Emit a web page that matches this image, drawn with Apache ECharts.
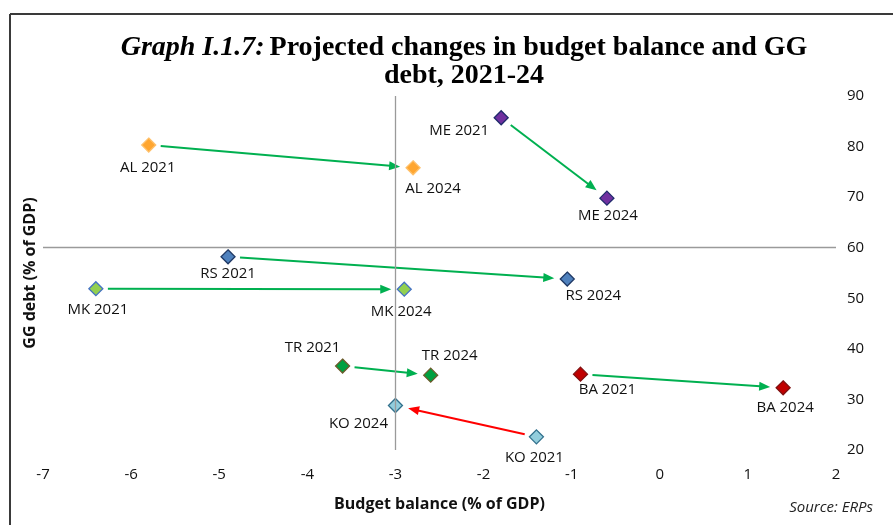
<!DOCTYPE html>
<html>
<head>
<meta charset="utf-8">
<script src="https://cdn.jsdelivr.net/npm/echarts@6/dist/echarts.min.js"></script>
<style>html,body{margin:0;padding:0;background:#fff}#c{width:893px;height:525px}</style>
</head>
<body>
<div id="c"></div>
<script>
// ---- data ----
const countries   = ['AL', 'ME', 'RS', 'MK', 'TR', 'KO', 'BA'];
const balance2021 = [-5.8, -1.8, -4.9, -6.4, -3.6, -1.4, -0.9];
const debt2021    = [80.3, 85.7, 58.2, 51.9, 36.6, 22.6, 35.0];
const balance2024 = [-2.8, -0.6, -1.05, -2.9, -2.6, -3.0, 1.4];
const debt2024    = [75.8, 69.8, 53.8, 51.8, 34.8, 28.8, 32.3];
const years       = ['2021', '2024'];
const xTicks      = [-7, -6, -5, -4, -3, -2, -1, 0, 1, 2];
const yTicks      = [20, 30, 40, 50, 60, 70, 80, 90];
const refBalance  = -3;
const refDebt     = 60;

// ---- styles (not data) ----
const markerStyle = {
  AL: { fill: '#FFA630', border: '#FFC06A' },
  ME: { fill: '#7030A0', border: '#1F2A6B' },
  RS: { fill: '#4F81BD', border: '#1F3864' },
  MK: { fill: '#92D050', border: '#4472C4' },
  TR: { fill: '#00A040', border: '#6B5B2B' },
  KO: { fill: '#92CDDC', border: '#31708C' },
  BA: { fill: '#C00000', border: '#7F1010' }
};
const arrowColor = { AL: '#00B050', ME: '#00B050', RS: '#00B050', MK: '#00B050', TR: '#00B050', KO: '#FF0000', BA: '#00B050' };
const labelOffset = {
  'AL 2021': [-1, 23], 'AL 2024': [20, 21],
  'ME 2021': [-42, 13], 'ME 2024': [1, 18],
  'RS 2021': [0, 17], 'RS 2024': [26, 17],
  'MK 2021': [2, 21], 'MK 2024': [-3, 23],
  'TR 2021': [-30, -18], 'TR 2024': [19, -19],
  'KO 2021': [-2, 21], 'KO 2024': [-37, 18],
  'BA 2021': [27, 16], 'BA 2024': [2, 20]
};

const FONT = 'Open Sans';

// build point list
const points = [];
countries.forEach((c, i) => {
  [[balance2021[i], debt2021[i], years[0]], [balance2024[i], debt2024[i], years[1]]].forEach(([x, y, yr]) => {
    const name = c + ' ' + yr;
    points.push({
      value: [x, y], name: name,
      itemStyle: { color: markerStyle[c].fill, borderColor: markerStyle[c].border, borderWidth: 1.3, opacity: 1 },
      label: { show: true, formatter: name, position: 'inside', offset: labelOffset[name],
               align: 'center', verticalAlign: 'middle', color: '#111', fontFamily: FONT, fontSize: 15 }
    });
  });
});
const arrows = countries.map((c, i) => ({ value: [balance2021[i], debt2021[i], balance2024[i], debt2024[i]], c: c }));

const chart = echarts.init(document.getElementById('c'), null, { renderer: 'canvas' });
chart.setOption({
  animation: false,
  backgroundColor: '#fff',
  title: {
    text: '{i|Graph I.1.7:} {b|Projected changes in budget balance and GG}\n{b|debt, 2021-24}',
    left: 459, top: 29, textAlign: 'center',
    textStyle: {
      lineHeight: 28,
      rich: {
        i: { fontFamily: 'Liberation Serif', fontStyle: 'italic', fontSize: 28, color: '#000', lineHeight: 28 },
        b: { fontFamily: 'Liberation Serif', fontWeight: 'bold', fontSize: 28, color: '#000', lineHeight: 28 }
      }
    }
  },
  graphic: [
    { type: 'line', shape: { x1: 10, y1: 14, x2: 893, y2: 14 }, style: { stroke: '#3a3a3a', lineWidth: 2 } },
    { type: 'line', shape: { x1: 10, y1: 14, x2: 10, y2: 525 }, style: { stroke: '#3a3a3a', lineWidth: 2 } },
    { type: 'text', right: 20, top: 500, style: { text: 'Source: ERPs', font: 'italic 15px "Open Sans"', fill: '#222' } },
    { type: 'text', x: 30, y: 273, rotation: Math.PI / 2,
      style: { text: 'GG debt (% of GDP)', font: 'bold 16px "Open Sans"', fill: '#111', align: 'center', verticalAlign: 'middle' } }
  ],
  grid: { left: 43, right: 57, top: 96, bottom: 75 },
  xAxis: {
    type: 'value', min: xTicks[0], max: xTicks[xTicks.length - 1], interval: 1,
    name: 'Budget balance (% of GDP)', nameLocation: 'middle', nameGap: 46,
    nameTextStyle: { fontFamily: FONT, fontWeight: 'bold', fontSize: 16, color: '#111' },
    axisLine: { show: false }, axisTick: { show: false }, splitLine: { show: false },
    axisLabel: { fontFamily: FONT, fontSize: 15, color: '#111', margin: 17 }
  },
  yAxis: {
    type: 'value', position: 'right', min: yTicks[0], max: yTicks[yTicks.length - 1], interval: 10,
    axisLine: { show: false }, axisTick: { show: false }, splitLine: { show: false },
    axisLabel: { fontFamily: FONT, fontSize: 15, color: '#111', margin: 11 }
  },
  series: [
    {
      type: 'custom',
      data: arrows,
      z: 3,
      renderItem: function (params, api) {
        const d = arrows[params.dataIndex];
        const p0 = api.coord([d.value[0], d.value[1]]);
        const p1 = api.coord([d.value[2], d.value[3]]);
        const dx = p1[0] - p0[0], dy = p1[1] - p0[1];
        const L = Math.sqrt(dx * dx + dy * dy);
        const ux = dx / L, uy = dy / L;
        const s = [p0[0] + ux * 12, p0[1] + uy * 12];
        const e = [p1[0] - ux * 13, p1[1] - uy * 13];
        const hl = 11, hw = 4.5;
        const b = [e[0] - ux * hl, e[1] - uy * hl];
        const col = arrowColor[d.c];
        return {
          type: 'group',
          children: [
            { type: 'line', shape: { x1: s[0], y1: s[1], x2: b[0] + ux * 1, y2: b[1] + uy * 1 }, style: { stroke: col, lineWidth: 2 } },
            { type: 'polygon', shape: { points: [e, [b[0] - uy * hw, b[1] + ux * hw], [b[0] + uy * hw, b[1] - ux * hw]] }, style: { fill: col } }
          ]
        };
      }
    },
    {
      type: 'scatter',
      symbol: 'diamond',
      symbolSize: 14,
      z: 4,
      itemStyle: { opacity: 1 },
      data: points,
      markLine: {
        silent: true, symbol: 'none', label: { show: false },
        lineStyle: { color: '#9a9a9a', width: 1.3, type: 'solid' },
        data: [{ xAxis: refBalance }, { yAxis: refDebt }]
      }
    }
  ]
});
</script>
</body>
</html>
